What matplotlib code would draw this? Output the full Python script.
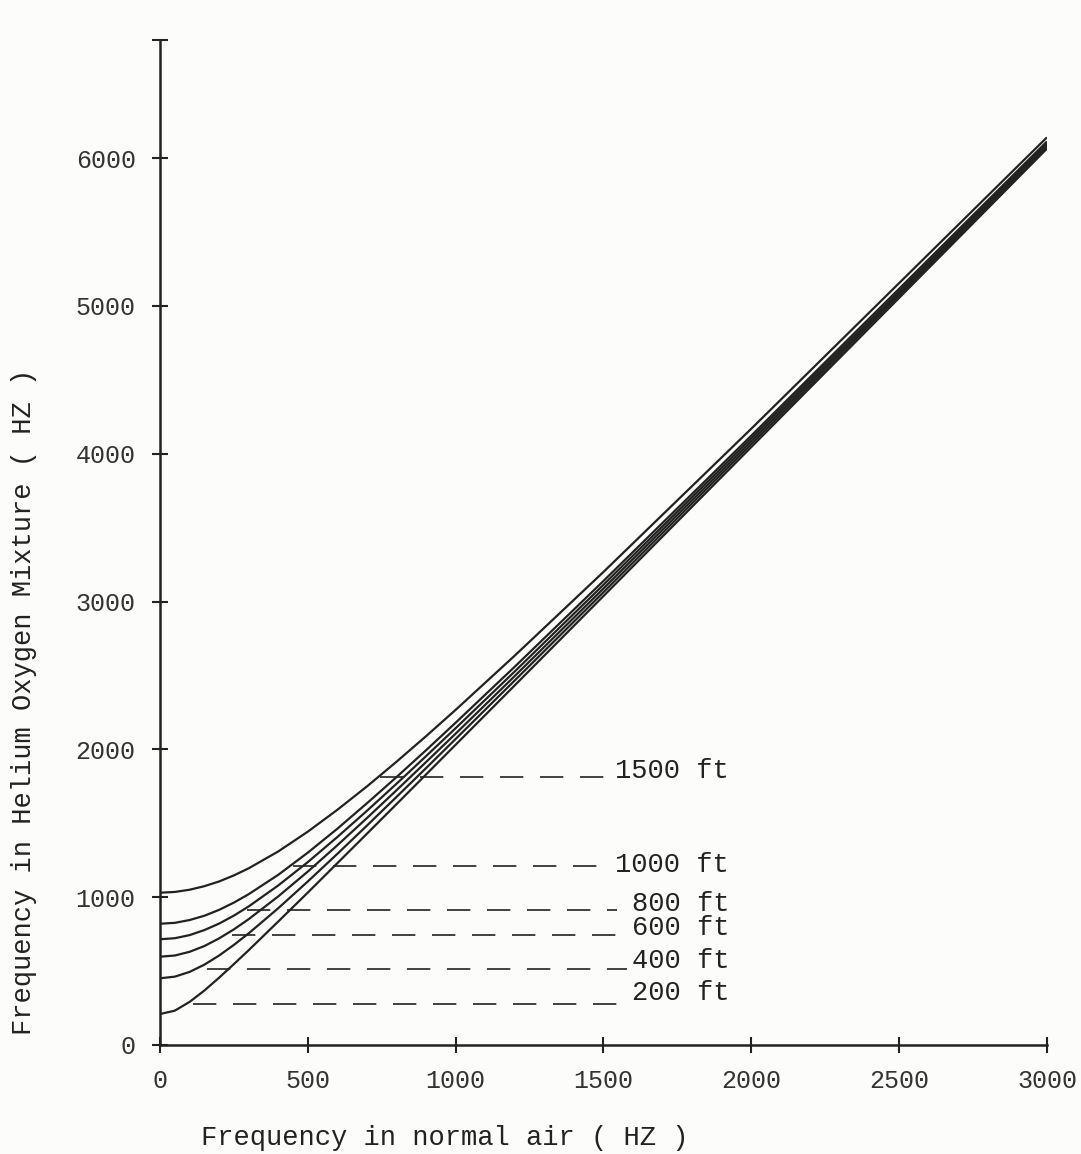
import matplotlib.pyplot as plt

# frequency in normal air (Hz) at which the curves were read
freq_air = [0, 50, 100, 150, 200, 250, 300, 400, 500, 600, 700, 800,
            900, 1000, 1200, 1500, 2000, 2500, 3000]

# frequency in helium-oxygen mixture (Hz), one curve per depth
he_1500 = [1030, 1035, 1050, 1074, 1106, 1147, 1195, 1309, 1443, 1591, 1749,
           1916, 2089, 2267, 2634, 3200, 4169, 5154, 6140]
he_1000 = [820, 826, 845, 874, 914, 963, 1020, 1151, 1301, 1463, 1635,
           1812, 1994, 2180, 2559, 3139, 4122, 5116, 6112]
he_800 = [715, 722, 743, 777, 821, 875, 937, 1079, 1237, 1407, 1584,
          1767, 1954, 2143, 2527, 3113, 4103, 5100, 6100]
he_600 = [597, 605, 630, 669, 721, 782, 851, 1005, 1173, 1351, 1535,
          1723, 1914, 2106, 2496, 3088, 4084, 5085, 6089]
he_400 = [451, 462, 494, 543, 605, 677, 755, 925, 1106, 1293, 1484,
          1678, 1873, 2070, 2466, 3063, 4065, 5070, 6077]
he_200 = [209, 232, 291, 368, 455, 547, 641, 835, 1031, 1230, 1429,
          1629, 1830, 2031, 2433, 3037, 4045, 5054, 6064]
curves = [he_1500, he_1000, he_800, he_600, he_400, he_200]

# depth markers: dashed level, start / end of dashes, label
depth_labels = ['1500 ft', '1000 ft', '800 ft', '600 ft', '400 ft', '200 ft']
dash_level = [1811, 1209, 912, 743, 514, 277]
dash_start = [743, 450, 294, 243, 159, 111]
dash_end = [1532, 1532, 1546, 1549, 1579, 1556]
label_x = [1539, 1539, 1596, 1596, 1596, 1596]
label_y = [1804, 1169, 905, 743, 520, 304]

x_ticks = [0, 500, 1000, 1500, 2000, 2500, 3000]
y_ticks = [0, 1000, 2000, 3000, 4000, 5000, 6000]

ink = '#222222'
font = ['Liberation Mono', 'DejaVu Sans Mono']

fig = plt.figure(figsize=(10.81, 11.54), dpi=100, facecolor='#fcfcfa')
ax = fig.add_axes([0.148, 0.0945, 0.8205, 0.871])
ax.set_facecolor('#fcfcfa')

for ys in curves:
    ax.plot(freq_air, ys, color=ink, lw=1.6, solid_capstyle='butt')

for lvl, x0, x1, lab, lx, ly in zip(dash_level, dash_start, dash_end,
                                      depth_labels, label_x, label_y):
    ax.plot([x0, x1], [lvl, lvl], color=ink, lw=1.2, dashes=(14, 10))
    ax.text(lx, ly, lab, fontsize=19.5, family=font, color=ink,
            ha='left', va='baseline')

ax.set_xlim(0, 3000)
ax.set_ylim(0, 6800)

for side in ['top', 'right']:
    ax.spines[side].set_visible(False)
for side in ['left', 'bottom']:
    ax.spines[side].set_linewidth(1.8)
    ax.spines[side].set_color(ink)

ax.set_xticks(x_ticks)
ax.set_yticks(y_ticks)
ax.set_yticks([6800], minor=True)
ax.tick_params(direction='inout', length=11, width=1.5, colors=ink,
               labelsize=18, pad=12)
ax.tick_params(axis='y', which='minor', direction='inout', length=11,
               width=1.5, colors=ink)
for lbl in ax.get_xticklabels() + ax.get_yticklabels():
    lbl.set_family(font)
    lbl.set_color('#333333')

ax.set_xlabel('Frequency in normal air ( HZ )', fontsize=19.5, family=font,
              color=ink)
ax.set_ylabel('Frequency in Helium Oxygen Mixture ( HZ )', fontsize=19.5,
              family=font, color=ink)
ax.xaxis.set_label_coords(0.321, -0.08)
ax.yaxis.set_label_coords(-0.139, 0.341)

fig.savefig('out.png', dpi=100, facecolor=fig.get_facecolor())
